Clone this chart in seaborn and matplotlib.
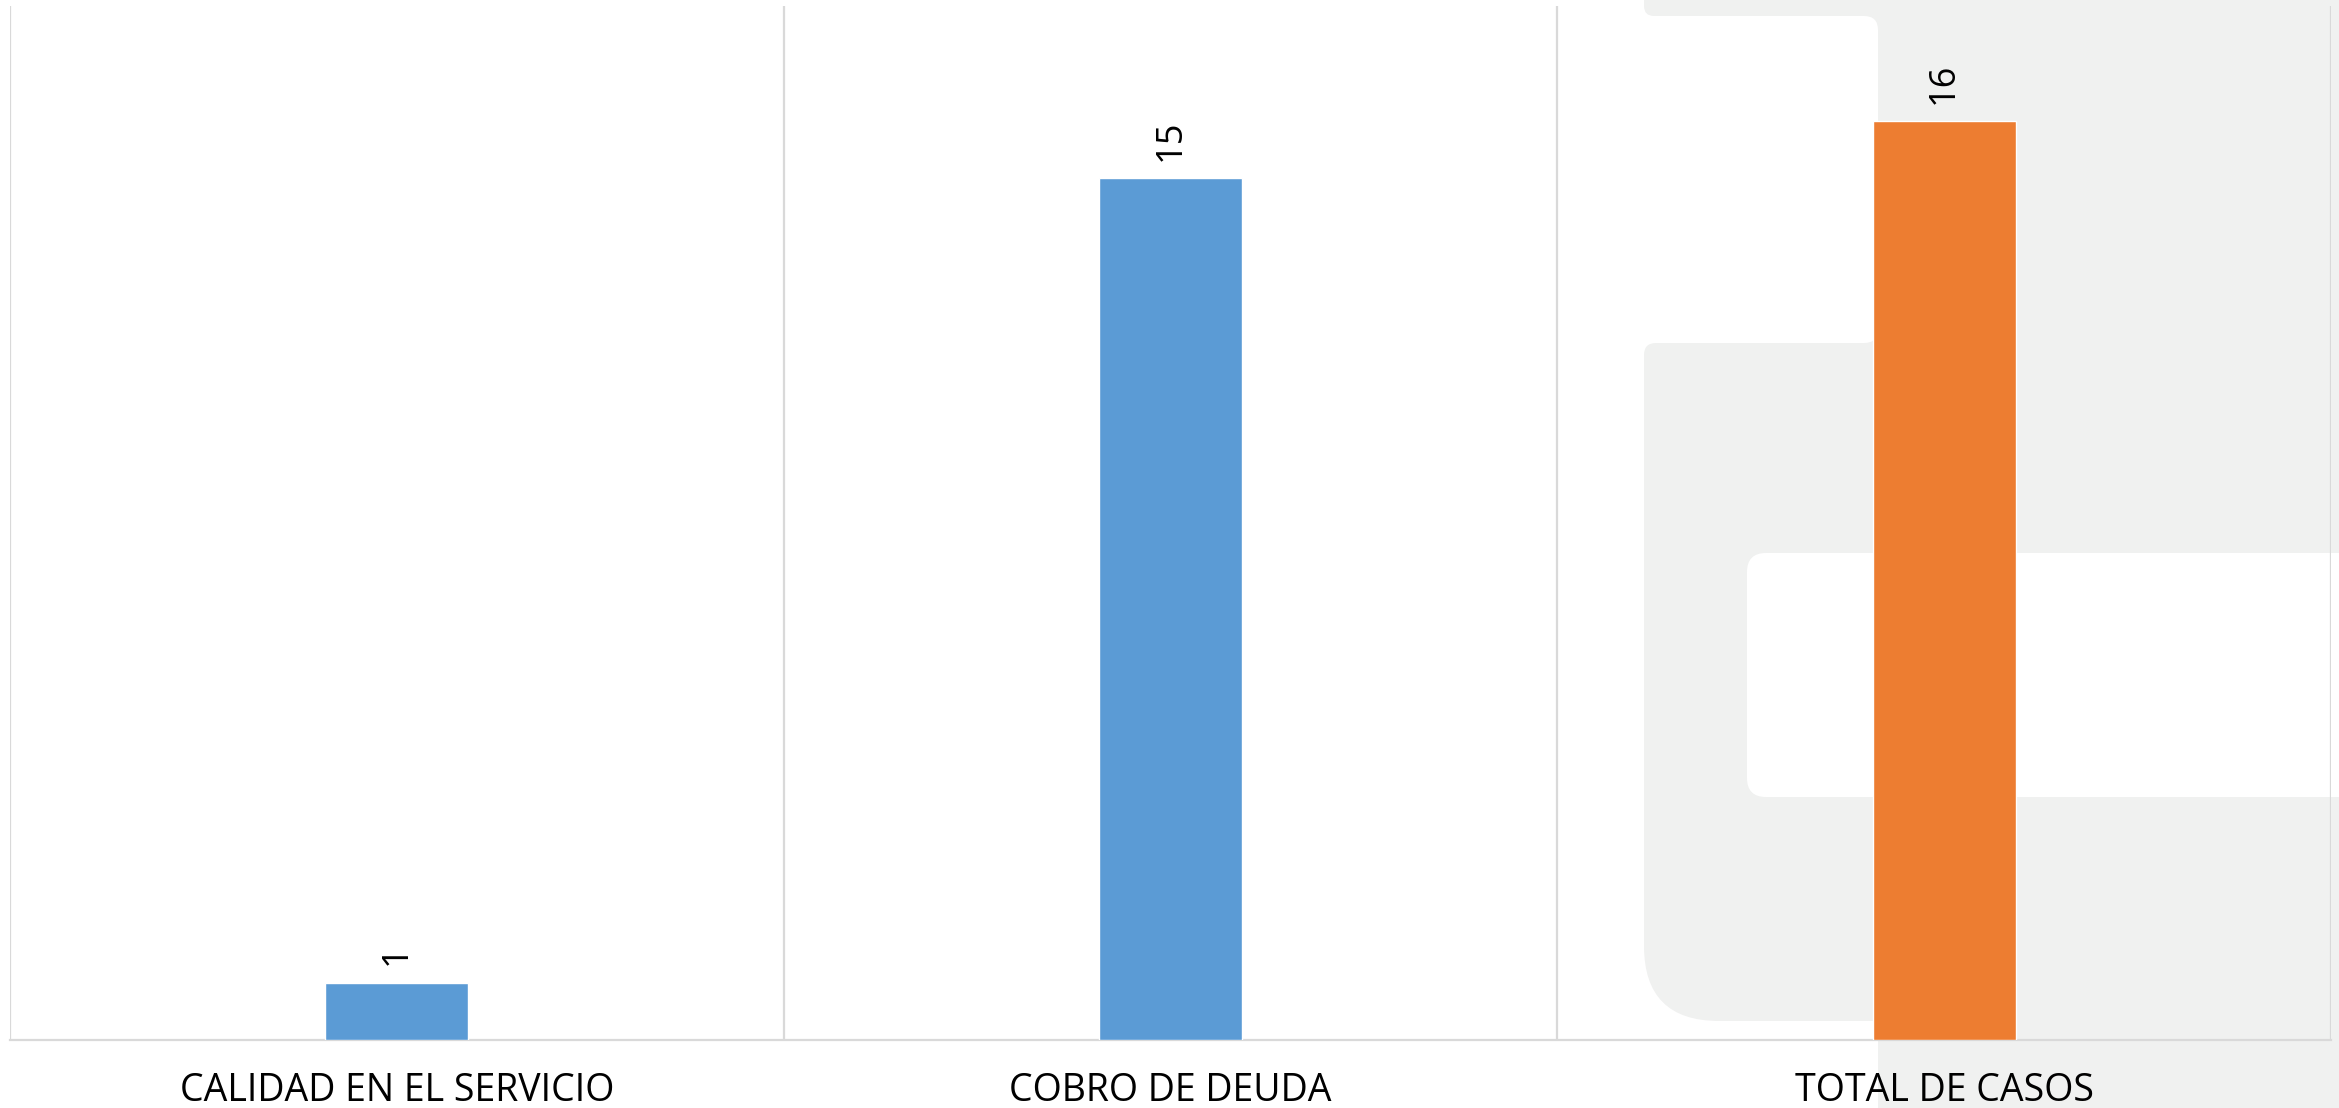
import matplotlib
matplotlib.use("Agg")
import matplotlib.pyplot as plt
from matplotlib.patches import FancyBboxPatch, Rectangle
import pandas as pd
import seaborn as sns

categories = ["CALIDAD EN EL SERVICIO", "COBRO DE DEUDA", "TOTAL DE CASOS"]
values = [1, 15, 16]
bar_colors = ["#5b9bd5", "#5b9bd5", "#ed7d31"]

W, H = 2339, 1108
sns.set_theme(style="white")
plt.rcParams["font.family"] = ["Open Sans", "DejaVu Sans"]

fig = plt.figure(figsize=(W / 100, H / 100), dpi=100)
fig.patch.set_facecolor("white")

# faint watermark logo behind the plot, in pixel coordinates
grey = "#f0f1f0"


def box(x0, y_top, x1, y_bot, color, r=0):
    """Rectangle given by its top-left / bottom-right pixel corners (y down)."""
    if r:
        return FancyBboxPatch((x0, H - y_bot), x1 - x0, y_bot - y_top,
                              boxstyle=f"round,pad=0,rounding_size={r}",
                              fc=color, ec="none")
    return Rectangle((x0, H - y_bot), x1 - x0, y_bot - y_top, fc=color, ec="none")


logo = [
    box(1878, 0, W, H, grey),                 # right block
    box(1644, -40, 1950, 16, grey, 10),       # top band
    box(1860, 16, 1878, 34, grey),            # corner fill, notch top-right
    box(1860, 325, 1878, 343, grey),          # corner fill, notch bottom-right
    box(1600, 16, 1878, 343, "white", 14),    # notch above the stem
    box(1644, 343, 1950, 720, grey, 12),      # stem, upper part
    box(1644, 600, 1950, 1021, grey, 75),     # stem, rounded foot
    box(1747, 553, W + 40, 797, "white", 19), # hole of the bowl
]
for p in logo:
    p.set_transform(None)
    p.set_zorder(-10)
    fig.patches.append(p)

ax = fig.add_axes([10 / W, 1 - 1040 / H, (2331 - 10) / W, (1040 - 6) / H])
ax.set_facecolor("none")

df = pd.DataFrame({"categoria": categories, "casos": values})
sns.barplot(data=df, x="categoria", y="casos", hue="categoria",
            palette=bar_colors, width=0.185, dodge=False, legend=False,
            saturation=1, ax=ax, zorder=3)

ax.set_xlim(-0.5, len(categories) - 0.5)
ax.set_ylim(0, 18)
ax.set_xlabel("")
ax.set_ylabel("")
ax.set_yticks([])

grid_c = "#d9d9d9"
for xb in [i - 0.5 for i in range(len(categories) + 1)]:
    ax.axvline(xb, color=grid_c, lw=1.6, zorder=1)
for side in ["top", "left", "right"]:
    ax.spines[side].set_visible(False)
ax.spines["bottom"].set_color(grid_c)
ax.spines["bottom"].set_linewidth(1.6)

ax.tick_params(axis="x", length=0, pad=23)
for lbl in ax.get_xticklabels():
    lbl.set_fontsize(27)
    lbl.set_color("black")

for cont in ax.containers:
    ax.bar_label(cont, labels=[f"{v:g}" for v in cont.datavalues], rotation=90,
                 padding=12.5, fontsize=26, color="black")

fig.savefig("out.png", dpi=100, facecolor=fig.get_facecolor())
